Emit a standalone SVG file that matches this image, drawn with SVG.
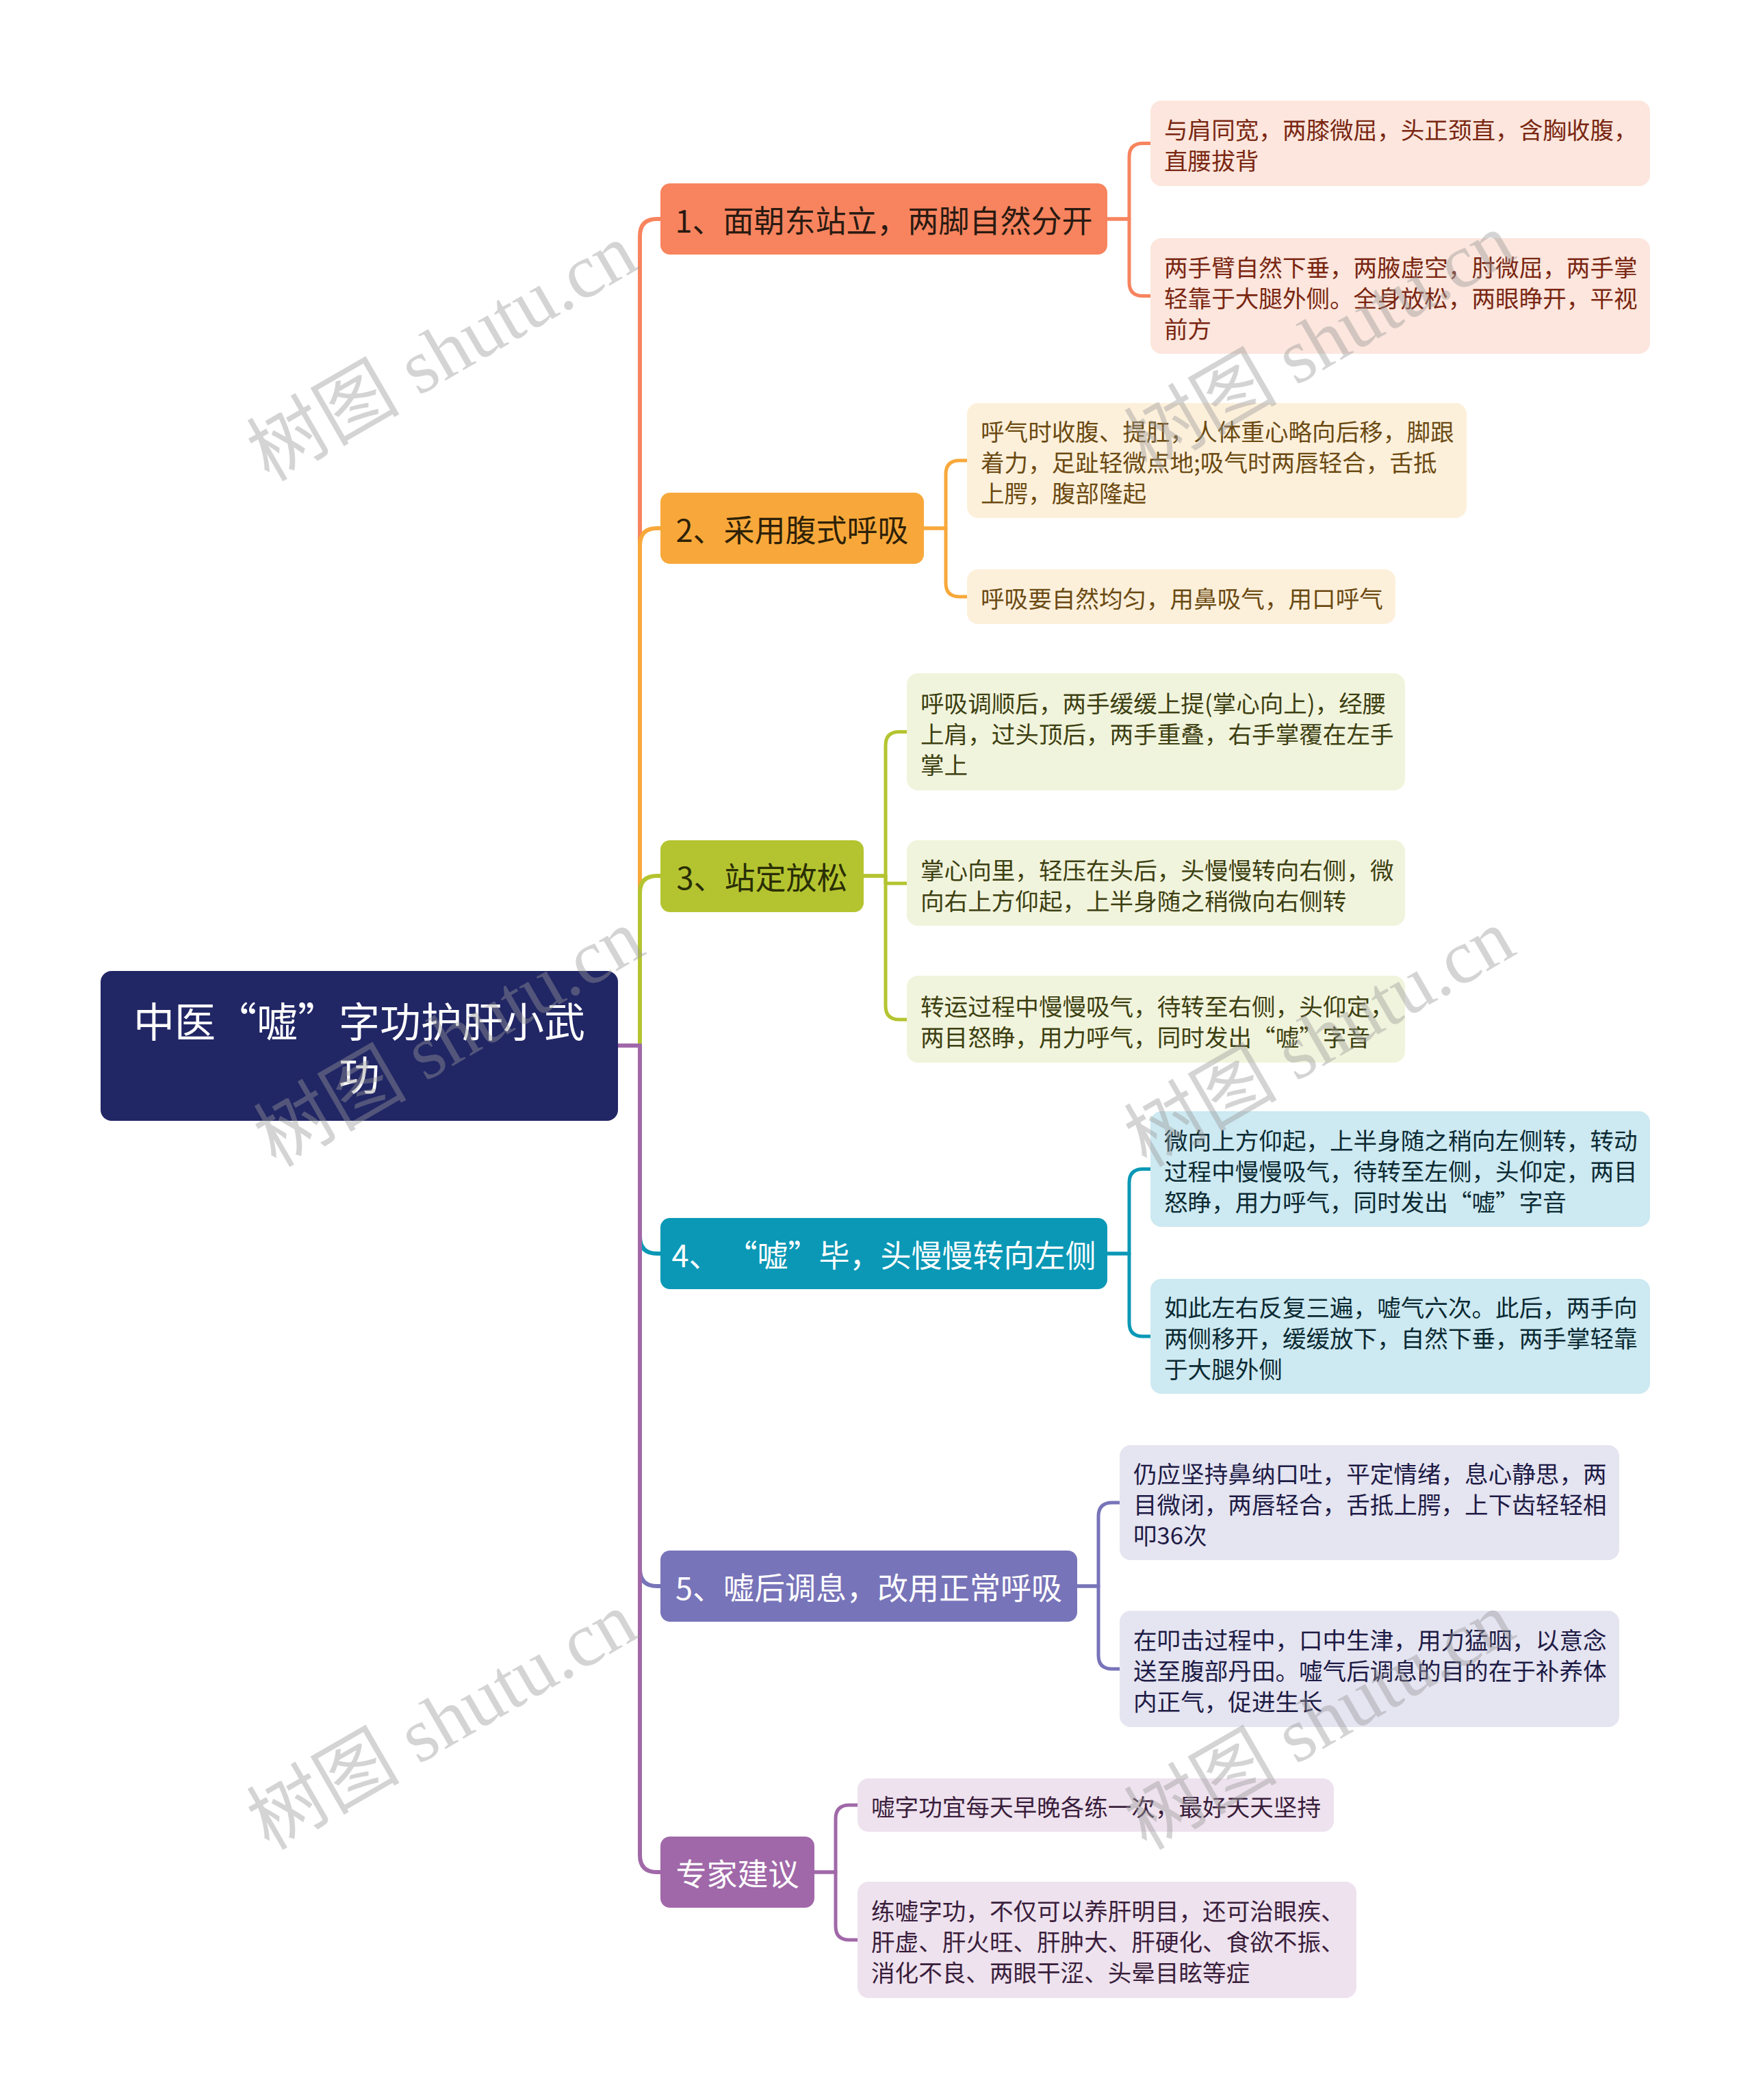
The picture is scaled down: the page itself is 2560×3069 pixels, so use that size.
<svg xmlns="http://www.w3.org/2000/svg" width="2560" height="3069" viewBox="0 0 2560 3069">
<style>
text{font-family:"Noto Sans CJK SC","Noto Sans",sans-serif;}
.root-t{font-size:60px;fill:#ffffff;text-anchor:middle;dominant-baseline:central;}
.br-t{font-size:45px;text-anchor:middle;dominant-baseline:central;}
.lf-t{font-size:34.6px;dominant-baseline:central;}
.c{fill:none;stroke-width:6;stroke-linecap:round;stroke-linejoin:round;}
.lc{fill:none;stroke-width:5;stroke-linecap:round;stroke-linejoin:round;}
.wm{font-family:"Liberation Serif","Noto Sans CJK SC",serif;font-size:112px;fill:#999999;fill-opacity:0.42;text-anchor:middle;dominant-baseline:central;}
</style>
<rect x="0" y="0" width="2560" height="3069" fill="#ffffff"/>

<g id="connectors">
  <path class="c" stroke="#F7845E" d="M903 1528 H935 V345 Q935 320 960 320 H967"/>
  <path class="c" stroke="#F8A83A" d="M903 1528 H935 V797 Q935 772 960 772 H967"/>
  <path class="c" stroke="#B4C430" d="M903 1528 H935 V1305 Q935 1280 960 1280 H967"/>
  <path class="c" stroke="#0A98B6" d="M903 1528 H935 V1807 Q935 1832 960 1832 H967"/>
  <path class="c" stroke="#7874B9" d="M903 1528 H935 V2293 Q935 2318 960 2318 H967"/>
  <path class="c" stroke="#A068A8" d="M903 1528 H935 V2711 Q935 2736 960 2736 H967"/>

  <path class="lc" stroke="#F7845E" d="M1618 320 H1650 V229.5 Q1650 209.5 1670 209.5 H1683"/>
  <path class="lc" stroke="#F7845E" d="M1618 320 H1650 V412.5 Q1650 432.5 1670 432.5 H1683"/>

  <path class="lc" stroke="#F8A83A" d="M1350 772 H1382 V693 Q1382 673 1402 673 H1415"/>
  <path class="lc" stroke="#F8A83A" d="M1350 772 H1382 V852 Q1382 872 1402 872 H1415"/>

  <path class="lc" stroke="#B4C430" d="M1262 1280 H1294 V1089.5 Q1294 1069.5 1314 1069.5 H1327"/>
  <path class="lc" stroke="#B4C430" d="M1262 1280 H1294 V1291 H1327"/>
  <path class="lc" stroke="#B4C430" d="M1262 1280 H1294 V1470 Q1294 1490 1314 1490 H1327"/>

  <path class="lc" stroke="#0A98B6" d="M1618 1832 H1650 V1728.5 Q1650 1708.5 1670 1708.5 H1683"/>
  <path class="lc" stroke="#0A98B6" d="M1618 1832 H1650 V1933 Q1650 1953 1670 1953 H1683"/>

  <path class="lc" stroke="#7874B9" d="M1574 2318 H1605 V2216 Q1605 2196 1625 2196 H1638"/>
  <path class="lc" stroke="#7874B9" d="M1574 2318 H1605 V2419 Q1605 2439 1625 2439 H1638"/>

  <path class="lc" stroke="#A068A8" d="M1190 2736 H1221 V2658 Q1221 2638 1241 2638 H1255"/>
  <path class="lc" stroke="#A068A8" d="M1190 2736 H1221 V2815 Q1221 2835 1241 2835 H1255"/>
</g>

<g id="root">
  <rect x="147" y="1419" width="756" height="219" rx="16" fill="#212665"/>
  <text class="root-t" x="525" y="1489">中医“嘘”字功护肝小武</text>
  <text class="root-t" x="525" y="1567">功</text>
</g>

<g id="branch1">
  <rect x="965" y="268" width="653" height="104" rx="14" fill="#F7845E"/>
  <text class="br-t" x="1291.5" y="320" fill="#2a1a12">1、面朝东站立，两脚自然分开</text>
</g>
<g id="branch2">
  <rect x="965" y="720" width="385" height="104" rx="14" fill="#F8A83A"/>
  <text class="br-t" x="1157.5" y="772" fill="#2e2108">2、采用腹式呼吸</text>
</g>
<g id="branch3">
  <rect x="965" y="1228" width="297" height="105" rx="14" fill="#B4C430"/>
  <text class="br-t" x="1113.5" y="1280" fill="#2a2e05">3、站定放松</text>
</g>
<g id="branch4">
  <rect x="965" y="1780" width="653" height="104" rx="14" fill="#0A98B6"/>
  <text class="br-t" x="1291.5" y="1832" fill="#ffffff" xml:space="preserve">4、 “嘘”毕，头慢慢转向左侧</text>
</g>
<g id="branch5">
  <rect x="965" y="2266" width="609" height="104" rx="14" fill="#7874B9"/>
  <text class="br-t" x="1269.5" y="2318" fill="#ffffff">5、嘘后调息，改用正常呼吸</text>
</g>
<g id="branch6">
  <rect x="965" y="2684" width="225" height="104" rx="14" fill="#A068A8"/>
  <text class="br-t" x="1077.5" y="2736" fill="#ffffff">专家建议</text>
</g>

<g id="leaf1a">
  <rect x="1681" y="147" width="730" height="125" rx="16" fill="#FCE6DD"/>
  <text class="lf-t" fill="#7a2712"><tspan x="1701" y="188">与肩同宽，两膝微屈，头正颈直，含胸收腹，</tspan><tspan x="1701" y="233">直腰拔背</tspan></text>
</g>
<g id="leaf1b">
  <rect x="1681" y="348" width="730" height="169" rx="16" fill="#FCE6DD"/>
  <text class="lf-t" fill="#7a2712"><tspan x="1701" y="388.5">两手臂自然下垂，两腋虚空，肘微屈，两手掌</tspan><tspan x="1701" y="433.5">轻靠于大腿外侧。全身放松，两眼睁开，平视</tspan><tspan x="1701" y="478.5">前方</tspan></text>
</g>
<g id="leaf2a">
  <rect x="1413" y="589" width="730" height="168" rx="16" fill="#FDF0DB"/>
  <text class="lf-t" fill="#6b4a12"><tspan x="1433" y="629">呼气时收腹、提肛，人体重心略向后移，脚跟</tspan><tspan x="1433" y="674">着力，足趾轻微点地;吸气时两唇轻合，舌抵</tspan><tspan x="1433" y="719">上腭，腹部隆起</tspan></text>
</g>
<g id="leaf2b">
  <rect x="1413" y="832" width="626" height="80" rx="16" fill="#FDF0DB"/>
  <text class="lf-t" fill="#6b4a12"><tspan x="1433" y="873">呼吸要自然均匀，用鼻吸气，用口呼气</tspan></text>
</g>
<g id="leaf3a">
  <rect x="1325" y="984" width="728" height="171" rx="16" fill="#F1F4DC"/>
  <text class="lf-t" fill="#3d4012"><tspan x="1345" y="1025.5">呼吸调顺后，两手缓缓上提(掌心向上)，经腰</tspan><tspan x="1345" y="1070.5">上肩，过头顶后，两手重叠，右手掌覆在左手</tspan><tspan x="1345" y="1115.5">掌上</tspan></text>
</g>
<g id="leaf3b">
  <rect x="1325" y="1228" width="728" height="125" rx="16" fill="#F1F4DC"/>
  <text class="lf-t" fill="#3d4012"><tspan x="1345" y="1269.5">掌心向里，轻压在头后，头慢慢转向右侧，微</tspan><tspan x="1345" y="1314.5">向右上方仰起，上半身随之稍微向右侧转</tspan></text>
</g>
<g id="leaf3c">
  <rect x="1325" y="1426" width="728" height="127" rx="16" fill="#F1F4DC"/>
  <text class="lf-t" fill="#3d4012"><tspan x="1345" y="1468.5">转运过程中慢慢吸气，待转至右侧，头仰定，</tspan><tspan x="1345" y="1513.5">两目怒睁，用力呼气，同时发出“嘘”字音</tspan></text>
</g>
<g id="leaf4a">
  <rect x="1681" y="1624" width="730" height="169" rx="16" fill="#CDE9F1"/>
  <text class="lf-t" fill="#0b2a33"><tspan x="1701" y="1664.5">微向上方仰起，上半身随之稍向左侧转，转动</tspan><tspan x="1701" y="1709.5">过程中慢慢吸气，待转至左侧，头仰定，两目</tspan><tspan x="1701" y="1754.5">怒睁，用力呼气，同时发出“嘘”字音</tspan></text>
</g>
<g id="leaf4b">
  <rect x="1681" y="1869" width="730" height="168" rx="16" fill="#CDE9F1"/>
  <text class="lf-t" fill="#0b2a33"><tspan x="1701" y="1909">如此左右反复三遍，嘘气六次。此后，两手向</tspan><tspan x="1701" y="1954">两侧移开，缓缓放下，自然下垂，两手掌轻靠</tspan><tspan x="1701" y="1999">于大腿外侧</tspan></text>
</g>
<g id="leaf5a">
  <rect x="1636" y="2112" width="730" height="168" rx="16" fill="#E5E4F1"/>
  <text class="lf-t" fill="#1d1b45"><tspan x="1656" y="2152">仍应坚持鼻纳口吐，平定情绪，息心静思，两</tspan><tspan x="1656" y="2197">目微闭，两唇轻合，舌抵上腭，上下齿轻轻相</tspan><tspan x="1656" y="2242">叩36次</tspan></text>
</g>
<g id="leaf5b">
  <rect x="1636" y="2354" width="730" height="170" rx="16" fill="#E5E4F1"/>
  <text class="lf-t" fill="#1d1b45"><tspan x="1656" y="2395">在叩击过程中，口中生津，用力猛咽，以意念</tspan><tspan x="1656" y="2440">送至腹部丹田。嘘气后调息的目的在于补养体</tspan><tspan x="1656" y="2485">内正气，促进生长</tspan></text>
</g>
<g id="leaf6a">
  <rect x="1253" y="2599" width="696" height="78" rx="16" fill="#EEE2EE"/>
  <text class="lf-t" fill="#3a1e3c"><tspan x="1273" y="2639">嘘字功宜每天早晚各练一次，最好天天坚持</tspan></text>
</g>
<g id="leaf6b">
  <rect x="1253" y="2750" width="729" height="170" rx="16" fill="#EEE2EE"/>
  <text class="lf-t" fill="#3a1e3c"><tspan x="1273" y="2791">练嘘字功，不仅可以养肝明目，还可治眼疾、</tspan><tspan x="1273" y="2836">肝虚、肝火旺、肝肿大、肝硬化、食欲不振、</tspan><tspan x="1273" y="2881">消化不良、两眼干涩、头晕目眩等症</tspan></text>
</g>

<g id="watermark">
  <text class="wm" transform="translate(646 515) rotate(-30)">树图 shutu.cn</text>
  <text class="wm" transform="translate(1928 500) rotate(-30)">树图 shutu.cn</text>
  <text class="wm" transform="translate(656 1517) rotate(-30)">树图 shutu.cn</text>
  <text class="wm" transform="translate(1928 1517) rotate(-30)">树图 shutu.cn</text>
  <text class="wm" transform="translate(646 2515) rotate(-30)">树图 shutu.cn</text>
  <text class="wm" transform="translate(1928 2515) rotate(-30)">树图 shutu.cn</text>
</g>
</svg>
